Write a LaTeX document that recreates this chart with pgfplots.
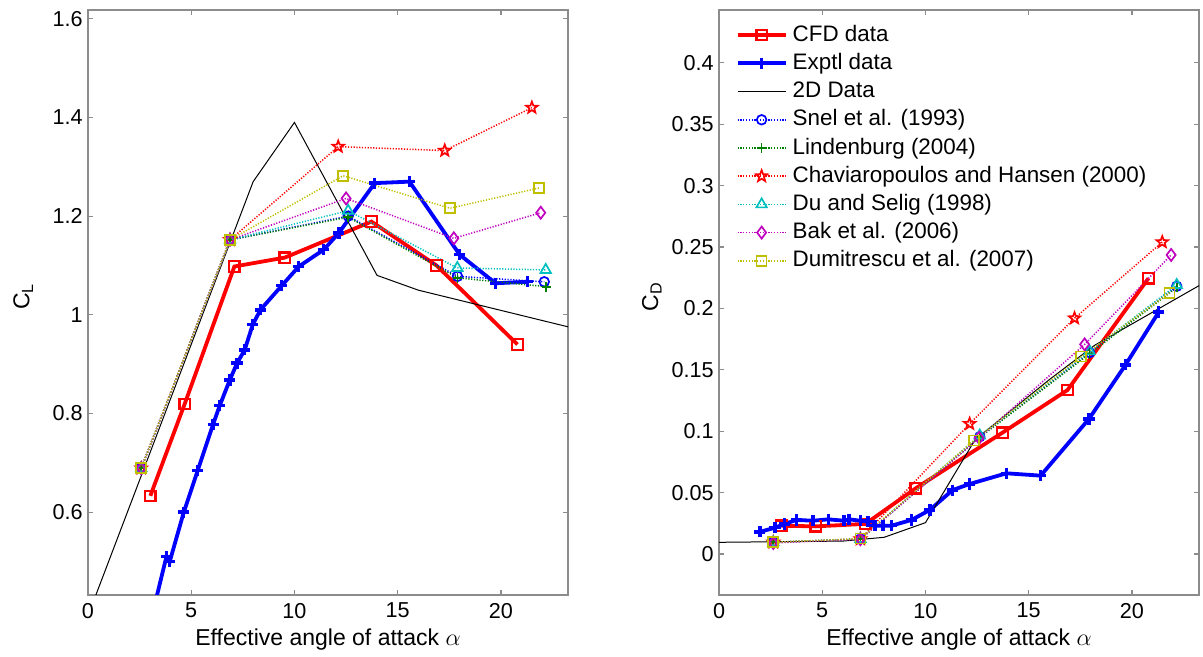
\documentclass[border=0pt]{standalone}
\usepackage{fontspec}
\setmainfont{Liberation Sans}
\usepackage{pgfplots}
\pgfplotsset{compat=1.18}
\usetikzlibrary{plotmarks}

\pgfdeclareplotmark{pentagram}{%
  \pgfpathmoveto{\pgfpointpolar{90}{\pgfplotmarksize}}%
  \pgfpathlineto{\pgfpointpolar{126}{0.42\pgfplotmarksize}}%
  \pgfpathlineto{\pgfpointpolar{162}{\pgfplotmarksize}}%
  \pgfpathlineto{\pgfpointpolar{198}{0.42\pgfplotmarksize}}%
  \pgfpathlineto{\pgfpointpolar{234}{\pgfplotmarksize}}%
  \pgfpathlineto{\pgfpointpolar{270}{0.42\pgfplotmarksize}}%
  \pgfpathlineto{\pgfpointpolar{306}{\pgfplotmarksize}}%
  \pgfpathlineto{\pgfpointpolar{342}{0.42\pgfplotmarksize}}%
  \pgfpathlineto{\pgfpointpolar{18}{\pgfplotmarksize}}%
  \pgfpathlineto{\pgfpointpolar{54}{0.42\pgfplotmarksize}}%
  \pgfpathclose
  \pgfusepathqstroke
}

\definecolor{mgreen}{rgb}{0,0.5,0}
\definecolor{mcyan}{rgb}{0,0.75,0.75}
\definecolor{mmag}{rgb}{0.75,0,0.75}
\definecolor{myel}{rgb}{0.75,0.75,0}

\pgfplotsset{
  myaxis/.style={
    scale only axis, width=240pt, height=292.5pt,
    xmin=0, xmax=23.25,
    axis line style={black!45, line width=0.6pt},
    every tick/.style={black!45, line width=0.6pt},
    major tick length=2.5pt,
    tick align=inside,
    xtick pos=both, ytick pos=both,
    xticklabel pos=bottom, yticklabel pos=left,
    xtick={0,5,10,15,20},
    tick label style={font=\fontsize{10.8}{12}\selectfont},
    xticklabel style={yshift=-0.5pt},
    yticklabel style={xshift=0.8pt},
    /pgf/number format/assume math mode=true,
    label style={font=\fontsize{11.5}{13}\selectfont},
    xlabel={Effective angle of attack $\alpha$},
    xlabel style={at={(axis description cs:0.5,-0.057)}, anchor=north, inner sep=0pt},
    clip=true,
    legend style={draw=none, fill=none, font=\fontsize{11.2}{12}\selectfont, row sep=3.05pt,
      cells={anchor=west}, inner sep=0pt,
      nodes={inner xsep=2.6pt, inner ysep=0pt, text height=8.6pt, text depth=2.45pt}},
    legend image code/.code={
      \draw[mark repeat=2,mark phase=2] plot coordinates {(0pt,0pt) (12pt,0pt) (24pt,0pt)};},
  },
  cfd/.style={red, line width=1.9pt, mark=square, mark size=2.6pt, mark options={solid, line width=1.1pt}},
  exp/.style={blue, line width=1.9pt, mark=+, mark size=2.8pt, mark options={solid, line width=1.7pt}},
  twod/.style={black, line width=0.5pt, no markers},
  dotl/.style={line width=0.75pt, dash pattern=on 0.6pt off 0.8pt, mark size=2.4pt, mark options={solid, line width=0.85pt}},
  snel/.style={dotl, blue, mark=o},
  lind/.style={dotl, mgreen, mark=+},
  chav/.style={dotl, red, mark=pentagram, mark size=3pt},
  du/.style={dotl, mcyan, mark=triangle, mark size=3pt},
  bak/.style={dotl, mmag, mark=diamond, mark size=3pt},
  dum/.style={dotl, myel, mark=square, mark size=2.5pt},
}

\begin{document}
\begin{tikzpicture}
\useasboundingbox (0,0) rectangle (601.5pt,328.5pt);

% ---------------- C_L ----------------
\begin{axis}[myaxis, at={(44pt,31pt)}, anchor=south west,
  ymin=0.432, ymax=1.618,
  ytick={0.6,0.8,1,1.2,1.4,1.6},
  ylabel={C\textsubscript{L}},
  ylabel style={at={(axis description cs:-0.135,0.51)}, anchor=center},
]
\addplot[cfd] coordinates {(3.02,0.633)(4.68,0.819)(7.09,1.098)(9.53,1.116)(13.73,1.189)(16.88,1.100)(20.8,0.940)};
\addplot[exp] coordinates {(2.0,0.25)(2.71,0.33)(3.16,0.40)(3.80,0.51)(3.96,0.50)(4.64,0.60)(5.31,0.684)(6.06,0.778)(6.38,0.816)(6.87,0.868)(7.22,0.902)(7.59,0.929)(7.98,0.98)(8.35,1.01)(9.38,1.059)(10.21,1.098)(11.42,1.132)(12.15,1.166)(13.89,1.267)(15.57,1.270)(18.0,1.122)(19.74,1.064)(21.3,1.067)};
\addplot[twod] coordinates {(0,0.39)(8,1.27)(10,1.39)(14,1.08)(16,1.05)(24,0.968)};
\addplot[snel] coordinates {(2.58,0.689)(6.88,1.152)(12.6,1.200)(17.9,1.078)(22.1,1.067)};
\addplot[lind] coordinates {(2.58,0.689)(6.88,1.152)(12.6,1.198)(17.9,1.075)(22.2,1.057)};
\addplot[chav] coordinates {(2.58,0.689)(6.88,1.152)(12.12,1.341)(17.28,1.333)(21.5,1.420)};
\addplot[du] coordinates {(2.58,0.689)(6.88,1.152)(12.6,1.211)(17.89,1.095)(22.17,1.091)};
\addplot[bak] coordinates {(2.58,0.689)(6.88,1.152)(12.5,1.236)(17.72,1.155)(21.93,1.207)};
\addplot[dum] coordinates {(2.58,0.689)(6.88,1.152)(12.36,1.282)(17.53,1.216)(21.84,1.257)};
\end{axis}

% ---------------- C_D ----------------
\begin{axis}[myaxis, at={(359.5pt,31pt)}, anchor=south west,
  ymin=-0.0334, ymax=0.443,
  ytick={0,0.05,0.1,0.15,0.2,0.25,0.3,0.35,0.4},
  yticklabel style={/pgf/number format/fixed, /pgf/number format/precision=2},
  ylabel={C\textsubscript{D}},
  ylabel style={at={(axis description cs:-0.14,0.51)}, anchor=center},
  legend style={at={(axis description cs:0.034,0.9765)}, anchor=north west},
]
\addplot[cfd] coordinates {(3.02,0.0230)(4.68,0.0225)(7.09,0.0245)(9.53,0.0535)(13.73,0.0988)(16.88,0.1335)(20.8,0.2245)};
\addlegendentry{CFD data}
\addplot[exp] coordinates {(1.98,0.018)(2.71,0.0214)(3.16,0.0244)(3.76,0.0277)(4.56,0.0271)(5.29,0.0282)(6.06,0.0271)(6.30,0.0282)(6.85,0.0271)(7.22,0.0263)(7.55,0.023)(7.95,0.023)(8.35,0.023)(9.32,0.0277)(10.21,0.0358)(11.31,0.052)(12.14,0.057)(13.92,0.0657)(15.58,0.0638)(17.92,0.110)(19.69,0.154)(21.3,0.197)};
\addlegendentry{Exptl data}
\addplot[twod] coordinates {(0,0.0095)(6,0.0105)(8,0.0136)(10,0.0255)(12.4,0.093)(16,0.142)(18.2,0.170)(23.3,0.219)};
\addlegendentry{2D Data}
\addplot[snel] coordinates {(2.63,0.0095)(6.85,0.0122)(12.63,0.0955)(17.95,0.164)(22.17,0.218)};
\addlegendentry{Snel et al. (1993)}
\addplot[lind] coordinates {(2.63,0.0095)(6.85,0.0122)(12.63,0.0950)(17.95,0.163)(22.17,0.217)};
\addlegendentry{Lindenburg (2004)}
\addplot[chav] coordinates {(2.63,0.0095)(6.85,0.0122)(12.14,0.106)(17.22,0.192)(21.47,0.254)};
\addlegendentry{Chaviaropoulos and Hansen (2000)}
\addplot[du] coordinates {(2.63,0.0095)(6.85,0.0122)(12.63,0.0965)(17.95,0.165)(22.17,0.219)};
\addlegendentry{Du and Selig (1998)}
\addplot[bak] coordinates {(2.63,0.0090)(6.85,0.0120)(12.6,0.0945)(17.71,0.1707)(21.9,0.2435)};
\addlegendentry{Bak et al. (2006)}
\addplot[dum] coordinates {(2.63,0.0095)(6.85,0.0125)(12.34,0.0923)(17.55,0.1607)(21.82,0.2128)};
\addlegendentry{Dumitrescu et al. (2007)}
\end{axis}
\end{tikzpicture}
\end{document}
